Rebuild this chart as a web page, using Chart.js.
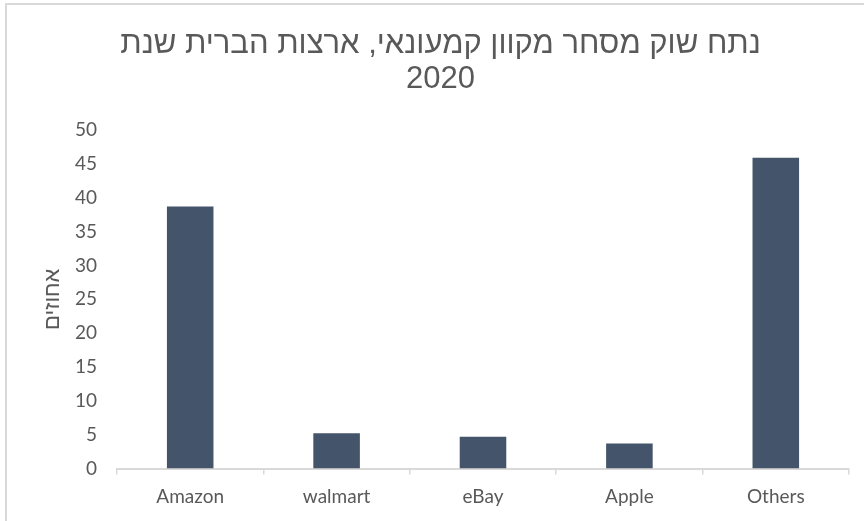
<!DOCTYPE html>
<html>
<head>
<meta charset="utf-8">
<script src="https://cdn.jsdelivr.net/npm/chart.js@4/dist/chart.umd.min.js"></script>
<style>
  html, body { margin: 0; padding: 0; background: #ffffff; overflow: hidden; width: 864px; height: 521px; }
  #box { position: absolute; left: 5px; top: 3px; border-left: 2px solid #d9d9d9; border-top: 2px solid #d9d9d9; width: 871px; height: 540px; }
  canvas { display: block; }
</style>
</head>
<body>
<div id="box"><canvas id="c" width="871" height="540"></canvas></div>
<script>
const categories = ['Amazon', 'walmart', 'eBay', 'Apple', 'Others'];
const shareValues = [38.7, 5.2, 4.7, 3.7, 45.9];
const titleLines = ['נתח שוק מסחר מקוון קמעונאי, ארצות הברית שנת', '2020'];
const yAxisTitle = 'אחוזים';

const grayText = '#595959';
const axisGray = '#d9d9d9';

new Chart(document.getElementById('c'), {
  type: 'bar',
  data: {
    labels: categories,
    datasets: [{
      data: shareValues,
      backgroundColor: '#44546a',
      borderWidth: 0,
      barPercentage: 0.318,
      categoryPercentage: 1.0
    }]
  },
  options: {
    responsive: false,
    animation: false,
    devicePixelRatio: 1,
    layout: { padding: { left: 25, right: 29, top: 0, bottom: 0 } },
    plugins: {
      legend: { display: false },
      tooltip: { enabled: false },
      title: {
        display: true,
        text: titleLines,
        color: grayText,
        font: { family: '"Liberation Sans", Arial, sans-serif', size: 31, weight: 'normal', lineHeight: '35px' },
        padding: { top: 22, bottom: 33 }
      }
    },
    scales: {
      x: {
        grid: { display: true, drawOnChartArea: false, drawTicks: true, tickLength: 6, color: axisGray, lineWidth: 1.5, offset: true },
        border: { display: true, color: axisGray, width: 2 },
        ticks: { color: grayText, font: { family: 'Lato, sans-serif', size: 19 }, padding: 11, maxRotation: 0 },
        afterFit: (s) => { s.height = 76.5; }
      },
      y: {
        min: 0,
        max: 50,
        ticks: { stepSize: 5, color: grayText, font: { family: 'Lato, sans-serif', size: 19 }, padding: 20 },
        grid: { display: false, drawTicks: false },
        border: { display: false },
        title: {
          display: true,
          text: yAxisTitle,
          color: grayText,
          font: { family: '"Liberation Sans", Arial, sans-serif', size: 22, weight: 'normal' },
          padding: { top: 8, bottom: 0 }
        },
        afterFit: (s) => { s.width = 85; }
      }
    }
  }
});
</script>
</body>
</html>
